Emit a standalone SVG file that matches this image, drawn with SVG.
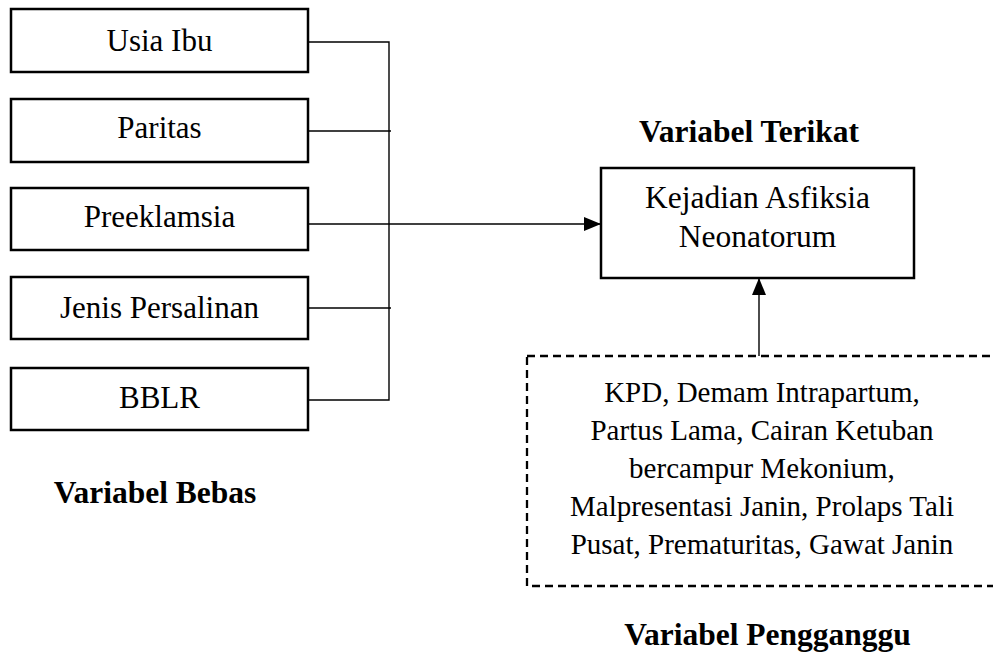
<svg xmlns="http://www.w3.org/2000/svg" width="993" height="661" viewBox="0 0 993 661">
<defs>
<style>
.box{fill:#fff;stroke:#000;stroke-width:2.5}
.dash{fill:none;stroke:#000;stroke-width:2.3;stroke-dasharray:8 5}
.ln{fill:none;stroke:#000;stroke-width:1.4}
.t{font-family:"Liberation Serif","Times New Roman",serif;font-size:31px;fill:#000;text-anchor:middle}
.s{font-size:29px}
.k{font-size:31.5px}
.b{font-weight:bold;font-size:31.5px}
</style>
<marker id="ah2" viewBox="0 0 17 14" refX="17" refY="7" markerWidth="17" markerHeight="14" markerUnits="userSpaceOnUse" orient="auto">
<path d="M0,0 L17,7 L0,14 z" fill="#000"/>
</marker>
</defs>
<rect width="993" height="661" fill="#fff"/>
<g id="connectors">
<polyline class="ln" points="308,42 389,42 389,400 308,400"/>
<line class="ln" x1="308" y1="131" x2="391" y2="131"/>
<line class="ln" x1="308" y1="308" x2="391" y2="308"/>
<line class="ln" x1="308" y1="224" x2="601" y2="224" marker-end="url(#ah2)"/>
<line class="ln" x1="759" y1="356" x2="759" y2="278" marker-end="url(#ah2)"/>
</g>
<g id="usia-ibu"><rect class="box" x="11" y="9" width="297" height="63"/><text class="t" x="159.5" y="51">Usia Ibu</text></g>
<g id="paritas"><rect class="box" x="11" y="99" width="297" height="63"/><text class="t" x="159.5" y="138">Paritas</text></g>
<g id="preeklamsia"><rect class="box" x="11" y="188" width="297" height="62"/><text class="t" x="159.5" y="227">Preeklamsia</text></g>
<g id="jenis-persalinan"><rect class="box" x="11" y="277" width="297" height="62"/><text class="t" x="159.5" y="318">Jenis Persalinan</text></g>
<g id="bblr"><rect class="box" x="11" y="368" width="297" height="62"/><text class="t" x="159.5" y="408">BBLR</text></g>
<g id="label-bebas"><text class="t b" x="155" y="503">Variabel Bebas</text></g>
<g id="label-terikat"><text class="t b" x="749" y="142">Variabel Terikat</text></g>
<g id="asfiksia"><rect class="box" x="601" y="168" width="313" height="110"/><text class="t k" x="757.5" y="208">Kejadian Asfiksia</text><text class="t k" x="757.5" y="247">Neonatorum</text></g>
<g id="pengganggu"><rect class="dash" x="527" y="356" width="470" height="230"/>
<text class="t s" x="762" y="402">KPD, Demam Intrapartum,</text>
<text class="t s" x="762" y="440">Partus Lama, Cairan Ketuban</text>
<text class="t s" x="762" y="478">bercampur Mekonium,</text>
<text class="t s" x="762" y="516">Malpresentasi Janin, Prolaps Tali</text>
<text class="t s" x="762" y="554">Pusat, Prematuritas, Gawat Janin</text>
</g>
<g id="label-pengganggu"><text class="t b" x="767.5" y="645">Variabel Pengganggu</text></g>
</svg>
